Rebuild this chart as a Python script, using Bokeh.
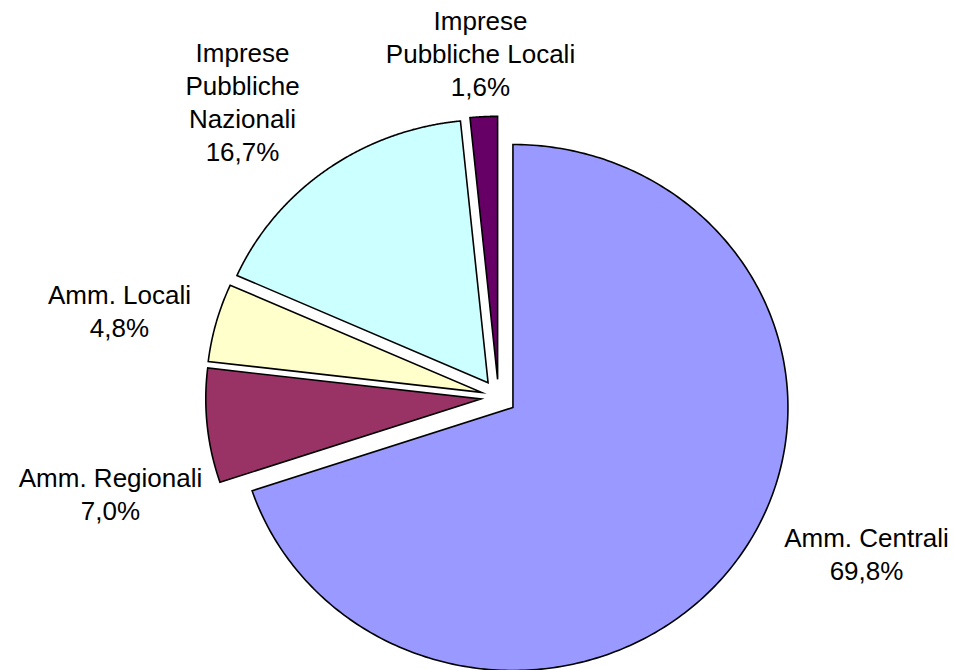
import numpy as np
from bokeh.plotting import figure
from bokeh.models import Range1d, ColumnDataSource
from bokeh.embed import file_html
from bokeh.resources import INLINE
from bokeh.core.properties import value

# ---- data ----
categories = ["Amm. Centrali", "Amm. Regionali", "Amm. Locali",
              "Imprese\nPubbliche\nNazionali", "Imprese\nPubbliche Locali"]
shares = [69.8, 7.0, 4.8, 16.7, 1.6]

# ---- styles / layout ----
colors = ["#9999FF", "#993366", "#FFFFCC", "#CCFFFF", "#660066"]
W, H = 955, 670
CX, CY = 498.0, 396.6      # pie centre (pixels)
RX, RY = 275.0, 263.0      # radii
EXPLODE = 17.8
# label anchors: (centre x, first baseline y)
label_anchor = [(866, 537), (110, 477), (119, 294), (242, 52), (480, 20)]
LINE_STEP = 33
FONT = "Liberation Sans"
FSIZE = "26px"

p = figure(width=W, height=H, output_backend="svg", toolbar_location=None,
           x_range=Range1d(0, W), y_range=Range1d(H, 0),
           min_border=0)
p.axis.visible = False
p.grid.visible = False
p.outline_line_color = None
p.background_fill_color = "white"
p.border_fill_color = "white"

total = float(sum(shares))
fr = np.array(shares) / total
ends = np.cumsum(fr) * 2 * np.pi
starts = ends - fr * 2 * np.pi

xs, ys = [], []
for a0, a1 in zip(starts, ends):
    mid = 0.5 * (a0 + a1)
    ox = CX + EXPLODE * np.sin(mid)
    oy = CY - EXPLODE * np.cos(mid)
    t = np.linspace(a0, a1, 300)
    px = np.concatenate([[ox], ox + RX * np.sin(t)])
    py = np.concatenate([[oy], oy - RY * np.cos(t)])
    xs.append(list(px))
    ys.append(list(py))

src = ColumnDataSource(dict(xs=xs, ys=ys, color=colors))
p.patches("xs", "ys", source=src, fill_color="color", line_color="black",
          line_width=1.6, line_join="miter")

# labels
tx, ty, tt = [], [], []
for cat, sh, (ax, ay) in zip(categories, shares, label_anchor):
    lines = cat.split("\n") + [f"{sh:.1f}".replace(".", ",") + "%"]
    for i, ln in enumerate(lines):
        tx.append(ax)
        ty.append(ay + i * LINE_STEP)
        tt.append(ln)

p.text(x=tx, y=ty, text=tt, text_font=value(FONT), text_font_size=FSIZE,
       text_align="center", text_baseline="alphabetic", text_color="black")

open("out.html", "w").write(file_html(p, INLINE))
